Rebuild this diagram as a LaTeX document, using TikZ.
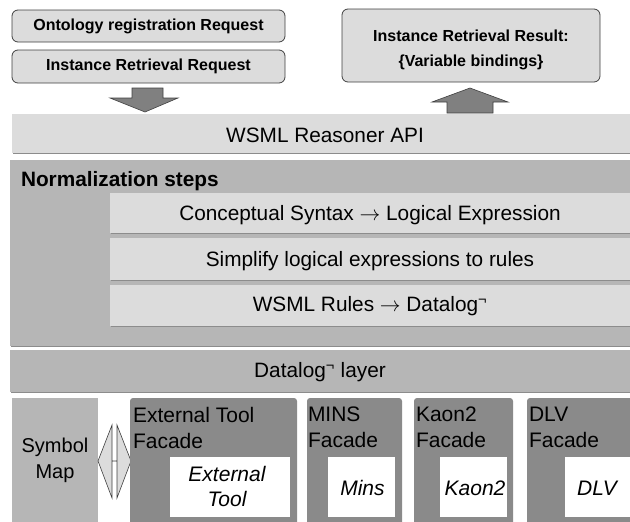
\documentclass[tikz,border=0pt]{standalone}
\usepackage{fontspec}
\setmainfont{Liberation Sans}
\usetikzlibrary{shadows}
\definecolor{gA}{HTML}{DCDCDC}
\definecolor{gB}{HTML}{B6B6B6}
\definecolor{gC}{HTML}{8A8A8A}
\definecolor{gArr}{HTML}{808080}
\definecolor{gLine}{HTML}{404040}
\definecolor{gShadow}{HTML}{8C8C8C}
\tikzset{
  every node/.style={inner sep=0pt, outer sep=0pt},
  reqbox/.style={draw=gLine, line width=0.8pt, fill=gA, rounded corners=6pt, font=\bfseries\fontsize{16}{18}\selectfont, align=center},
  band/.style={fill=#1, drop shadow={shadow xshift=1.2pt, shadow yshift=-1.4pt, fill=gShadow, opacity=1}},
  bandtext/.style={font=\fontsize{20.8}{24}\selectfont},
  facade/.style={fill=gC, rounded corners=3pt},
  tool/.style={fill=white},
  tooltext/.style={font=\itshape\fontsize{21}{25}\selectfont, align=center},
  flabel/.style={font=\fontsize{21}{26}\selectfont, align=left, anchor=north west},
  blockarrow/.style={fill=gArr, draw=gLine, line width=0.6pt},
}
\begin{document}
\begin{tikzpicture}[x=1pt, y=-1pt]
\useasboundingbox (0,0) rectangle (630,522);
% top request boxes
\node[reqbox, minimum width=273pt, minimum height=32pt] (ont) at (148.5,26) {Ontology registration Request};
\node[reqbox, minimum width=273pt, minimum height=33pt] (irr) at (148.5,66.5) {Instance Retrieval Request};
\node[reqbox, minimum width=258pt, minimum height=73pt] (res) at (471,45.5) {};
\node[font=\bfseries\fontsize{16}{25}\selectfont, align=center] (resl) at (471,49.5) {Instance Retrieval Result:\\\{Variable bindings\}};
% block arrows
\draw[blockarrow] (132,88) -- (163,88) -- (163,98) -- (178,98) -- (145,112) -- (110,98) -- (132,98) -- cycle;
\draw[blockarrow] (447,113) -- (447,102) -- (432,102) -- (470,88) -- (508,102) -- (493,102) -- (493,113) -- cycle;
% API band
\node[band=gA, minimum width=618pt, minimum height=39pt] (api) at (321,133.5) {};
\node[bandtext] (apil) at (325,135) {WSML Reasoner API};
% normalization
\node[band=gB, minimum width=620pt, minimum height=186pt] (norm) at (320,253) {};
\node[font=\bfseries\fontsize{20.8}{24}\selectfont, anchor=west] (normlbl) at (21,181) {Normalization steps};
\node[band=gA, minimum width=520pt, minimum height=40pt] (s1) at (370,213) {};
\node[bandtext] (s1t) at (370,215) {Conceptual Syntax $\rightarrow$ Logical Expression};
\node[band=gA, minimum width=520pt, minimum height=42pt] (s2) at (370,259) {};
\node[bandtext] (s2t) at (370,261) {Simplify logical expressions to rules};
\node[band=gA, minimum width=520pt, minimum height=41pt] (s3) at (370,305.5) {};
\node[bandtext] (s3t) at (370,306.5) {WSML Rules $\rightarrow$ Datalog\textsuperscript{¬}};
% datalog layer
\node[band=gB, minimum width=620pt, minimum height=42pt] (dl) at (320,371) {};
\node[bandtext] (dlt) at (320,372.5) {Datalog\textsuperscript{¬} layer};
% bottom
\node[fill=gB, minimum width=86pt, minimum height=128pt] (sym) at (55,462) {};
\node[font=\fontsize{20}{26}\selectfont, align=center] (symt) at (55,460) {Symbol\\Map};
\draw[fill=gA, draw=gLine, line width=0.6pt] (98,461) -- (112,425) -- (112,461) -- (117,461) -- (117,425) -- (131,461) -- (117,498) -- (117,461) -- (112,461) -- (112,498) -- cycle;
\node[facade, minimum width=167pt, minimum height=130pt] (extf) at (213.5,463) {};
\node[flabel] (extl) at (133,407) {External Tool\\Facade};
\node[tool, minimum width=120pt, minimum height=60pt] (ext) at (230,487) {};
\node[tooltext] (extt) at (227,486.5) {External\\Tool};
\node[facade, minimum width=95pt, minimum height=130pt] (minsf) at (354.5,463) {};
\node[flabel] (minsl) at (308,407) {MINS\\Facade};
\node[tool, minimum width=67pt, minimum height=60pt] (mins) at (361.5,487) {};
\node[tooltext] (minst) at (362.5,488) {Mins};
\node[facade, minimum width=99pt, minimum height=130pt] (kaonf) at (463.5,463) {};
\node[flabel] (kaonl) at (416,407) {Kaon2\\Facade};
\node[tool, minimum width=67pt, minimum height=60pt] (kaon) at (473.5,487) {};
\node[tooltext] (kaont) at (475,488) {Kaon2};
\node[facade, minimum width=110pt, minimum height=130pt] (dlvf) at (582,463) {};
\node[flabel] (dlvl) at (529,407) {DLV\\Facade};
\node[tool, minimum width=70pt, minimum height=60pt] (dlv) at (600,487) {};
\node[tooltext] (dlvt) at (597,488) {DLV};
\end{tikzpicture}
\end{document}
